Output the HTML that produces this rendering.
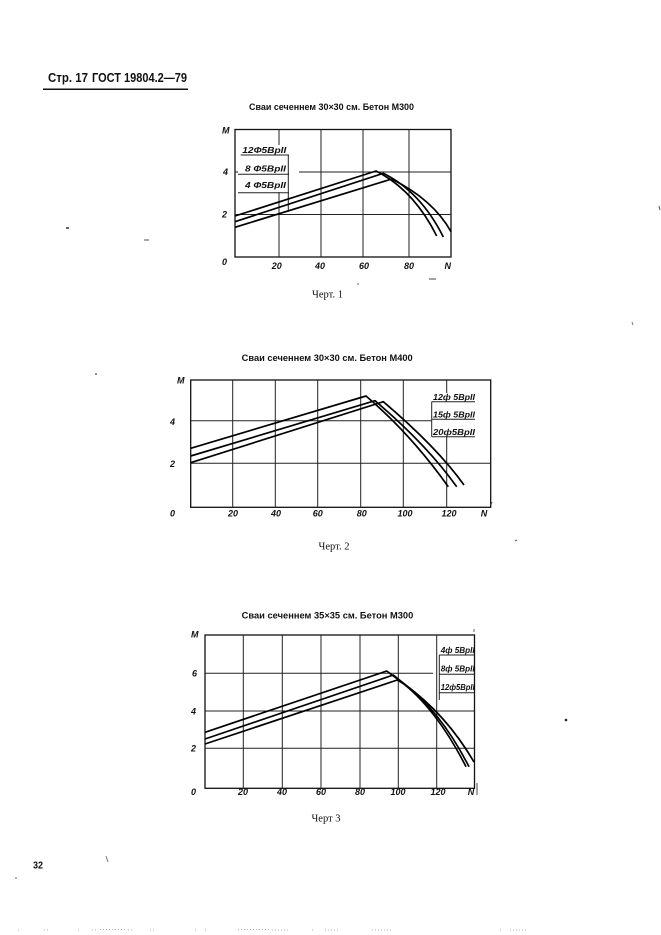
<!DOCTYPE html>
<html><head><meta charset="utf-8"><style>
html,body{margin:0;padding:0;background:#fff;}
svg{display:block;}
.t{font-family:"Liberation Sans",sans-serif;font-weight:bold;fill:#111;}
.ax{font-family:"Liberation Sans",sans-serif;font-style:italic;font-weight:bold;font-size:9px;fill:#111;}
.lg{font-family:"Liberation Sans",sans-serif;font-style:italic;font-weight:bold;font-size:8.5px;fill:#111;}
.cap{font-family:"Liberation Serif",serif;font-size:10.5px;fill:#111;}
.g{stroke:#222;stroke-width:1;fill:none;}
.b{stroke:#111;stroke-width:1.3;fill:none;}
.c{stroke:#000;stroke-width:1.7;fill:none;stroke-linejoin:round;}
.sp{stroke:#999;stroke-width:0.8;fill:none;stroke-dasharray:1 2;}
</style></head><body>
<svg width="661" height="935" viewBox="0 0 661 935" xmlns="http://www.w3.org/2000/svg">
<!-- header -->
<text class="t" x="48" y="82" font-size="13" textLength="40" lengthAdjust="spacingAndGlyphs">Стр. 17</text>
<text class="t" x="92" y="82" font-size="13" textLength="95" lengthAdjust="spacingAndGlyphs">ГОСТ 19804.2—79</text>
<path d="M43 89.3 H188" stroke="#111" stroke-width="1.5"/>

<!-- stray marks -->
<path d="M66 228 h3" stroke="#333" stroke-width="1.5"/>
<path d="M144 240 h5" stroke="#555" stroke-width="1"/>
<circle cx="96" cy="374" r="0.9" fill="#444"/>
<circle cx="566" cy="720" r="1.3" fill="#222"/>
<path d="M659 206 l1 4" stroke="#555" stroke-width="1"/>
<path d="M632 322 l1 3" stroke="#777" stroke-width="1"/>
<path d="M515 541 l2 -1" stroke="#555" stroke-width="1"/>
<path d="M106 856 l2 6" stroke="#777" stroke-width="1"/>
<circle cx="16" cy="878" r="0.8" fill="#555"/>

<!-- ============ Chart 1 ============ -->
<text class="t" x="249" y="110" font-size="9" textLength="165" lengthAdjust="spacingAndGlyphs">Сваи сеченнем 30×30 см. Бетон М300</text>
<rect class="b" x="235" y="129.5" width="216" height="127.5"/>
<path class="g" d="M279 129.5 V257 M321 129.5 V257 M363 129.5 V257 M409 129.5 V257"/>
<path class="g" d="M299 172 H451 M235 172 H238 M235 214.5 H451"/>
<!-- legend 1 -->
<rect x="239" y="145" width="48" height="47" fill="#fff"/>
<path class="g" d="M240.7 155 H289 M238 174.3 H289 M238 192.7 H289 M288.3 155 V211.7"/>
<text class="lg" x="242.3" y="153" textLength="44" lengthAdjust="spacingAndGlyphs">12Ф5ВрII</text>
<text class="lg" x="245" y="171.5" textLength="41" lengthAdjust="spacingAndGlyphs">8 Ф5ВрII</text>
<text class="lg" x="245" y="188" textLength="41" lengthAdjust="spacingAndGlyphs">4 Ф5ВрII</text>
<!-- curves 1 -->
<path class="c" d="M235 216 L376 171 Q413.6 189.8 436.7 236"/>
<path class="c" d="M235 221.7 L383.3 173.3 Q420.8 192 443.3 237"/>
<path class="c" d="M235 227.3 L391.7 179 Q433.3 199.8 451 231.7"/>
<!-- axis labels 1 -->
<text class="ax" x="222" y="133.5">M</text>
<text class="ax" x="223" y="175">4</text>
<text class="ax" x="222" y="217.5">2</text>
<text class="ax" x="222" y="265">0</text>
<text class="ax" x="276.7" y="269" text-anchor="middle">20</text>
<text class="ax" x="320" y="269" text-anchor="middle">40</text>
<text class="ax" x="364" y="269" text-anchor="middle">60</text>
<text class="ax" x="409" y="269" text-anchor="middle">80</text>
<text class="ax" x="447.7" y="269" text-anchor="middle">N</text>
<path d="M429 279 h7" stroke="#444" stroke-width="1"/>
<circle cx="358" cy="284" r="0.8" fill="#555"/>
<text class="cap" x="327.5" y="297.5" text-anchor="middle">Черт. 1</text>

<!-- ============ Chart 2 ============ -->
<text class="t" x="241.7" y="361" font-size="9" textLength="171" lengthAdjust="spacingAndGlyphs">Сваи сеченнем 30×30 см. Бетон М400</text>
<rect class="b" x="190.7" y="380" width="300" height="127.3"/>
<path class="g" d="M232.7 380 V507.3 M275.3 380 V507.3 M317.7 380 V507.3 M360.7 380 V507.3 M403.3 380 V507.3 M446.7 380 V393 M446.7 437 V507.3"/>
<path class="g" d="M190.7 420.7 H431.7 M190.7 463.3 H490.7"/>
<!-- legend 2 -->
<path class="g" d="M431.7 401.7 H475 M431.7 419.3 H475 M431.7 436.7 H475 M431.7 401.7 V436.7"/>
<text class="lg" x="433" y="400" textLength="42" lengthAdjust="spacingAndGlyphs">12ф 5ВрII</text>
<text class="lg" x="433" y="417.3" textLength="42" lengthAdjust="spacingAndGlyphs">15ф 5ВрII</text>
<text class="lg" x="433" y="435" textLength="42" lengthAdjust="spacingAndGlyphs">20ф5ВрII</text>
<!-- curves 2 -->
<path class="c" d="M190.7 448.3 L366 396 Q410.5 433.8 448.3 486.7"/>
<path class="c" d="M190.7 456 L375 400.7 Q426.6 444.6 456.7 486.7"/>
<path class="c" d="M190.7 462.7 L383.3 401.7 Q437.3 447.6 464 485"/>
<!-- axis labels 2 -->
<text class="ax" x="177" y="383.5">M</text>
<text class="ax" x="170" y="425">4</text>
<text class="ax" x="170" y="467">2</text>
<text class="ax" x="170" y="516.5">0</text>
<text class="ax" x="233" y="516.5" text-anchor="middle">20</text>
<text class="ax" x="276" y="516.5" text-anchor="middle">40</text>
<text class="ax" x="317.7" y="516.5" text-anchor="middle">60</text>
<text class="ax" x="361.7" y="516.5" text-anchor="middle">80</text>
<text class="ax" x="405" y="516.5" text-anchor="middle">100</text>
<text class="ax" x="449" y="516.5" text-anchor="middle">120</text>
<text class="ax" x="484" y="516.5" text-anchor="middle">N</text>
<path d="M491 505 l1 -3" stroke="#555" stroke-width="1"/>
<text class="cap" x="334" y="549.5" text-anchor="middle">Черт. 2</text>

<!-- ============ Chart 3 ============ -->
<text class="t" x="241.7" y="618.5" font-size="9" textLength="171.6" lengthAdjust="spacingAndGlyphs">Сваи сеченнем 35×35 см. Бетон М300</text>
<rect class="b" x="205" y="635" width="269.5" height="153.3"/>
<path class="g" d="M243.3 635 V788.3 M282.3 635 V788.3 M321 635 V788.3 M360 635 V788.3 M398.3 635 V788.3 M436.7 635 V788.3"/>
<path class="g" d="M205 673.3 H433 M205 711 H474.5 M205 748.3 H474.5"/>
<!-- legend 3 -->
<path class="g" d="M439.3 655 H475 M439.3 674.3 H475 M439.3 692.7 H475 M439.3 655 V700"/>
<text class="lg" x="440.7" y="653" textLength="34" lengthAdjust="spacingAndGlyphs">4ф 5ВрII</text>
<text class="lg" x="440.7" y="671.7" textLength="34" lengthAdjust="spacingAndGlyphs">8ф 5ВрII</text>
<text class="lg" x="440.7" y="690" textLength="34" lengthAdjust="spacingAndGlyphs">12ф5ВрII</text>
<!-- curves 3 -->
<path class="c" d="M205 732.3 L386.7 671 L400 681 Q436 708 466 766.7"/>
<path class="c" d="M205 739 L393.3 675 L402 682 Q440 710 469 766.7"/>
<path class="c" d="M205 744 L397.3 680 L404 684 Q446 714 474 762"/>
<!-- axis labels 3 -->
<text class="ax" x="191" y="637.5">M</text>
<text class="ax" x="192" y="676.5">6</text>
<text class="ax" x="191" y="714.5">4</text>
<text class="ax" x="191" y="751.5">2</text>
<text class="ax" x="191" y="795">0</text>
<text class="ax" x="243" y="795" text-anchor="middle">20</text>
<text class="ax" x="282" y="795" text-anchor="middle">40</text>
<text class="ax" x="321" y="795" text-anchor="middle">60</text>
<text class="ax" x="360" y="795" text-anchor="middle">80</text>
<text class="ax" x="398" y="795" text-anchor="middle">100</text>
<text class="ax" x="438" y="795" text-anchor="middle">120</text>
<text class="ax" x="471" y="795" text-anchor="middle">N</text>
<path d="M477 783 V795" stroke="#444" stroke-width="1"/>
<path d="M474 629 V632" stroke="#666" stroke-width="1"/>
<text class="cap" x="326" y="821.5" text-anchor="middle">Черт 3</text>

<!-- page number -->
<text class="t" x="33" y="868.5" font-size="10" textLength="10" lengthAdjust="spacingAndGlyphs">32</text>

<!-- bottom speckles -->
<path class="sp" d="M18 930 h2 M44 930 h5 M78 930 h1 M92 930 h6 M100 929.5 h25 M128 930 h6 M150 930 h6 M195 930 h1 M205 930 h2 M238 929.5 h32 M272 930 h18 M312 930 h2 M325 930 h15 M372 930 h20 M500 930 h2 M510 930 h16"/>
</svg>
</body></html>
